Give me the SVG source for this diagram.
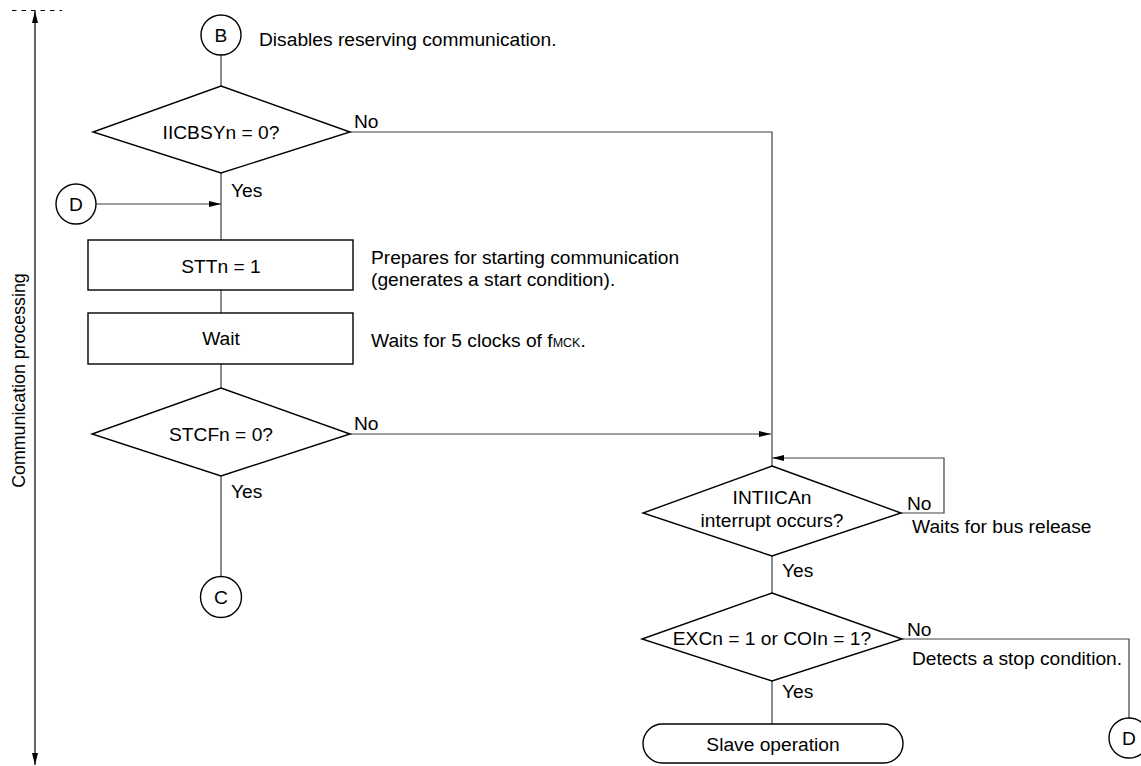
<svg xmlns="http://www.w3.org/2000/svg" width="1141" height="766" viewBox="0 0 1141 766">
<style>
text{font-family:"Liberation Sans",Arial,sans-serif;font-size:19.2px;fill:#000}
.c{text-anchor:middle}
.shape{fill:#fff;stroke:#000;stroke-width:1.4}
.conn{fill:none;stroke:#404040;stroke-width:1.2}
</style>
<defs>
<marker id="ah" viewBox="0 0 12 6" refX="12" refY="3" markerWidth="12" markerHeight="6" markerUnits="userSpaceOnUse" orient="auto">
<path d="M0,0 L12,3 L0,6 Z" fill="#000"/>
</marker>
<marker id="ahs" viewBox="0 0 12 6" refX="12" refY="3" markerWidth="12" markerHeight="6" markerUnits="userSpaceOnUse" orient="auto-start-reverse">
<path d="M0,0 L12,3 L0,6 Z" fill="#000"/>
</marker>
</defs>

<g id="side">
<line x1="12" y1="10.5" x2="62" y2="10.5" stroke="#000" stroke-width="1" stroke-dasharray="4.5,5"/>
<line x1="35" y1="11" x2="35" y2="765" stroke="#000" stroke-width="1.2" marker-start="url(#ahs)" marker-end="url(#ahs)"/>
<text class="c" transform="translate(25,380.5) rotate(-90)" style="font-size:17.8px">Communication processing</text>
</g>

<g id="connectors">
<line class="conn" x1="221" y1="55" x2="221" y2="86"/>
<line class="conn" x1="221" y1="173" x2="221" y2="240"/>
<line class="conn" x1="96" y1="204" x2="221" y2="204" marker-end="url(#ah)"/>
<line class="conn" x1="221" y1="290" x2="221" y2="313"/>
<line class="conn" x1="221" y1="364" x2="221" y2="388"/>
<line class="conn" x1="221" y1="476" x2="221" y2="576"/>
<polyline class="conn" points="350,132 772,132 772,466"/>
<line class="conn" x1="350" y1="434" x2="771" y2="434" marker-end="url(#ah)"/>
<polyline class="conn" points="901,513 944,513 944,458 772,458" marker-end="url(#ah)"/>
<line class="conn" x1="772" y1="556" x2="772" y2="593"/>
<polyline class="conn" points="902,639 1129,639 1129,718"/>
<line class="conn" x1="772" y1="681" x2="772" y2="724"/>
</g>

<g id="nodeB">
<circle class="shape" cx="221" cy="35" r="20"/>
<text class="c" x="221" y="42">B</text>
<text x="259" y="45.5">Disables reserving communication.</text>
</g>

<g id="decIICBSY">
<polygon class="shape" points="221,86 350,132 221,173 93,132"/>
<text class="c" x="221" y="138.5">IICBSYn = 0?</text>
<text x="354" y="128">No</text>
<text x="231" y="197">Yes</text>
</g>

<g id="nodeD1">
<circle class="shape" cx="76" cy="204" r="20"/>
<text class="c" x="76" y="211">D</text>
</g>

<g id="procSTT">
<rect class="shape" x="88" y="240" width="265" height="50"/>
<text class="c" x="221" y="273">STTn = 1</text>
<text x="371" y="264">Prepares for starting communication</text>
<text x="371" y="286">(generates a start condition).</text>
</g>

<g id="procWait">
<rect class="shape" x="88" y="313" width="265" height="51"/>
<text class="c" x="221" y="345">Wait</text>
<text x="371" y="346.5">Waits for 5 clocks of f<tspan style="font-size:12.5px">MCK</tspan>.</text>
</g>

<g id="decSTCF">
<polygon class="shape" points="221,388 350,434 221,476 92,434"/>
<text class="c" x="221" y="440.5">STCFn = 0?</text>
<text x="354" y="430">No</text>
<text x="231" y="498">Yes</text>
</g>

<g id="nodeC">
<circle class="shape" cx="221" cy="597" r="20.5"/>
<text class="c" x="221" y="604">C</text>
</g>

<g id="decINT">
<polygon class="shape" points="772,466 901,513 772,556 643,513"/>
<text class="c" x="772" y="504">INTIICAn</text>
<text class="c" x="772" y="527">interrupt occurs?</text>
<text x="907" y="510">No</text>
<text x="912" y="533">Waits for bus release</text>
<text x="782" y="577">Yes</text>
</g>

<g id="decEXC">
<polygon class="shape" points="772,593 902,639 772,681 642,639"/>
<text class="c" x="772" y="645">EXCn = 1 or COIn = 1?</text>
<text x="907" y="636">No</text>
<text x="912" y="665">Detects a stop condition.</text>
<text x="782" y="698">Yes</text>
</g>

<g id="termSlave">
<rect class="shape" x="643" y="724" width="260" height="39" rx="19.5" ry="19.5"/>
<text class="c" x="773" y="751">Slave operation</text>
</g>

<g id="nodeD2">
<circle class="shape" cx="1129" cy="738" r="20"/>
<text class="c" x="1129" y="745">D</text>
</g>
</svg>
